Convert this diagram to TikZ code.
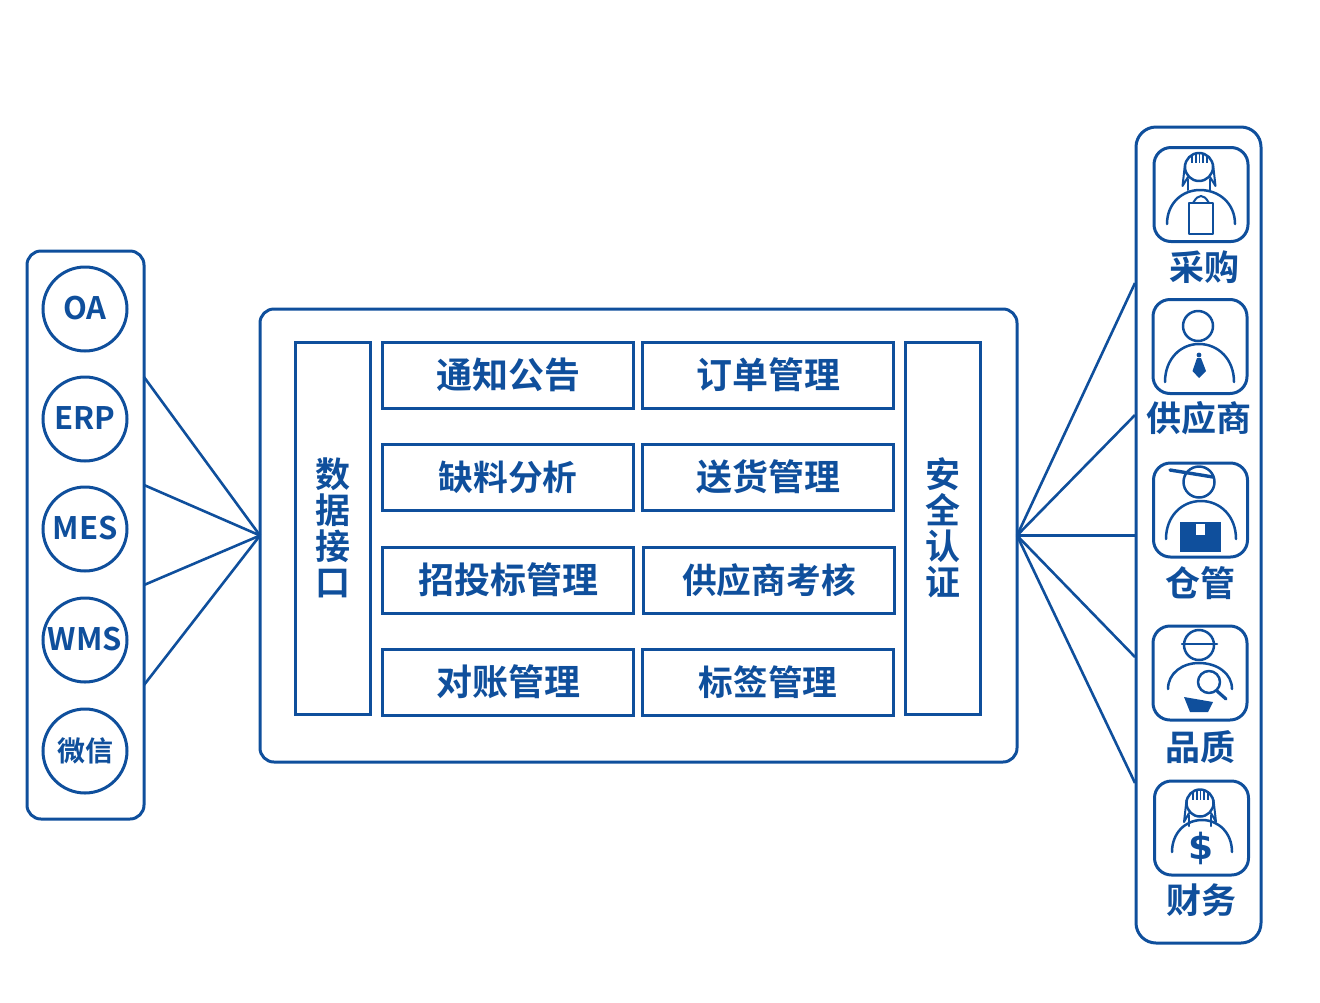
\documentclass[tikz,border=0pt]{standalone}
\usepackage{fontspec}
\setmainfont{Noto Sans CJK SC}[BoldFont={Noto Sans CJK SC Bold}]
\newfontfamily\dollarfont{DejaVu Sans}
\definecolor{bl}{HTML}{0F4F9C}
\newcommand{\shld}[5]{\draw[ln] (#1,#4) .. controls (#1,{#4-0.6*(#4-#5)}) and ({#2-0.55*(#2-#1)},#5) .. (#2,#5) .. controls ({#2+0.55*(#3-#2)},#5) and (#3,{#4-0.6*(#4-#5)}) .. (#3,#4);}
\newcommand{\hairdo}[3]{% centre x, centre y, radius
  \draw[ln] (#1,#2) circle[radius=#3];
  \draw[ln,line width=1.8pt,line cap=butt] ({#1-7},{#2-#3+1.5}) -- ({#1-7},{#2-#3+10}) ({#1-3.3},{#2-#3}) -- ({#1-3.3},{#2-#3+10}) ({#1+0.4},{#2-#3}) -- ({#1+0.4},{#2-#3+10}) ({#1+4.1},{#2-#3}) -- ({#1+4.1},{#2-#3+10}) ({#1+7.8},{#2-#3+1.5}) -- ({#1+7.8},{#2-#3+10});
  \draw[ln,line width=2pt] ({#1-#3},{#2-3}) -- ({#1-#3-2.5},{#2+19}) -- ({#1-11},{#2+10});
  \draw[ln,line width=2pt] ({#1+#3},{#2-3}) -- ({#1+#3+2.5},{#2+19}) -- ({#1+11},{#2+10});
  \draw[ln,line width=2pt] ({#1-11},{#2+12}) -- ({#1-11},{#2+23}) ({#1+11},{#2+12}) -- ({#1+11},{#2+23});}
\tikzset{
  x=1pt,y=-1pt,
  ln/.style={draw=bl,line width=2.5pt,line cap=round,line join=round},
  bx/.style={draw=bl,line width=3pt,inner sep=0pt,outer sep=0pt,text=bl},
  rbx/.style={bx,rounded corners=14pt},
  ibx/.style={bx,rounded corners=17pt,minimum width=94pt,minimum height=94pt},
  cell/.style={bx,minimum width=251pt,minimum height=66pt,font=\fontsize{36}{36}\selectfont\bfseries},
  cellb/.style={cell,font=\fontsize{34.7}{36}\selectfont\bfseries},
  col/.style={bx,minimum width=75pt,minimum height=372pt,align=center,font=\fontsize{35}{36}\selectfont\bfseries},
  circ/.style={bx,circle,minimum size=84pt,font=\fontsize{31}{31}\selectfont\bfseries},
  lab/.style={text=bl,inner sep=0pt,font=\fontsize{35}{35}\selectfont\bfseries},
  link/.style={draw=bl,line width=2.6pt}
}
\begin{document}
\begin{tikzpicture}
\useasboundingbox (0,0) rectangle (1320,1002);
% containers
\node[rbx,minimum width=117pt,minimum height=568pt] (left) at (85.5,535) {};
\node[rbx,minimum width=757pt,minimum height=453pt] (center) at (638.5,535.5) {};
\node[rbx,rounded corners=20pt,minimum width=125pt,minimum height=816pt] (right) at (1198.5,535) {};
% left circles
\node[circ] (oa) at (85,309) {\raisebox{2pt}{OA}};
\node[circ] (erp) at (85,419) {\raisebox{2pt}{ERP}};
\node[circ] (mes) at (85,529) {\raisebox{2pt}{MES}};
\node[circ,inner sep=-8pt] (wms) at (85,640) {\raisebox{2pt}{WMS}};
\node[circ,font=\fontsize{28}{28}\selectfont\bfseries] (wx) at (85,751) {微信};
% columns
\node[col] (data) at (333,528) {数\\据\\接\\口};
\node[col] (sec) at (943,528) {安\\全\\认\\证};
% cells
\node[cell] (c11) at (508,375) {\raisebox{1pt}{通知公告}};
\node[cell] (c12) at (768,375) {\raisebox{1pt}{订单管理}};
\node[cellb] (c21) at (508,477) {\raisebox{1pt}{缺料分析}};
\node[cell] (c22) at (768,477) {\raisebox{1pt}{送货管理}};
\node[cell] (c31) at (508,580) {\raisebox{1pt}{招投标管理}};
\node[cellb] (c32) at (769,580) {\raisebox{1pt}{供应商考核}};
\node[cell] (c41) at (508,682) {\raisebox{1pt}{对账管理}};
\node[cellb] (c42) at (768,682) {\raisebox{1pt}{标签管理}};
% connector ends
\coordinate (la) at (144,377);
\coordinate (lb) at (144,485);
\coordinate (lc) at (144,585);
\coordinate (ld) at (144,685);
\coordinate (ra) at (1135,283);
\coordinate (rb) at (1135,415);
\coordinate (rc) at (1135,535.5);
\coordinate (rd) at (1135,657);
\coordinate (re) at (1135,783);
\foreach \e in {la,lb,lc,ld} \draw[link] (\e) -- (center.west);
\foreach \e in {ra,rb,rc,rd,re} \draw[link] (center.east) -- (\e);
% icon boxes
\node[ibx] (i1) at (1201,194.5) {};
\node[ibx] (i2) at (1200,346.5) {};
\node[ibx] (i3) at (1200.5,510) {};
\node[ibx] (i4) at (1200,673) {};
\node[ibx] (i5) at (1201.5,828) {};
% labels
\node[lab] (l1) at (1204,267) {采购};
\node[lab] (l2) at (1199,418) {供应商};
\node[lab] (l3) at (1200,583) {仓管};
\node[lab] (l4) at (1200,747) {品质};
\node[lab] (l5) at (1201,900) {财务};
% icon 1: buyer
\hairdo{1199}{167}{14}
\shld{1167}{1200}{1235}{224}{190}
\draw[ln,fill=white] (1189,203) rectangle (1213,234);
\draw[ln,line width=2pt] (1193,203) .. controls (1196,198) and (1198,196) .. (1201,196) .. controls (1204,196) and (1206,198) .. (1209,203);
% icon 2: supplier
\draw[ln] (1198,326) circle[radius=15];
\shld{1165}{1199}{1234}{382}{344}
\fill[bl] (1199,355) circle[radius=2.4];
\fill[bl] (1197,358) -- (1201,358) -- (1206,371) -- (1199,378) -- (1192.5,371) -- cycle;
% icon 3: warehouse
\draw[ln] (1199,482) circle[radius=15.5];
\draw[ln,line width=3.4pt] (1170,470) -- (1213,477);
\shld{1166}{1201}{1236}{539}{501}
\fill[bl] (1180,522) rectangle (1221,552);
\fill[white] (1196,524) rectangle (1205,535);
% icon 4: quality
\draw[ln] (1199,645) circle[radius=15];
\draw[ln] (1182,644) -- (1217,644);
\shld{1168}{1199}{1232}{689}{663}
\draw[ln,fill=white] (1209,682) circle[radius=11];
\draw[ln,line width=3.2pt] (1217,691) -- (1226,699);
\fill[bl] (1184,697) -- (1213,702) -- (1208,712) -- (1190,712) -- cycle;
% icon 5: finance
\hairdo{1200}{803}{13.5}
\shld{1172}{1202}{1232}{852}{820}
\node[text=bl,inner sep=0pt,font=\fontsize{36}{36}\selectfont\dollarfont\bfseries] (dollar) at (1201,848) {\$};
\end{tikzpicture}
\end{document}
